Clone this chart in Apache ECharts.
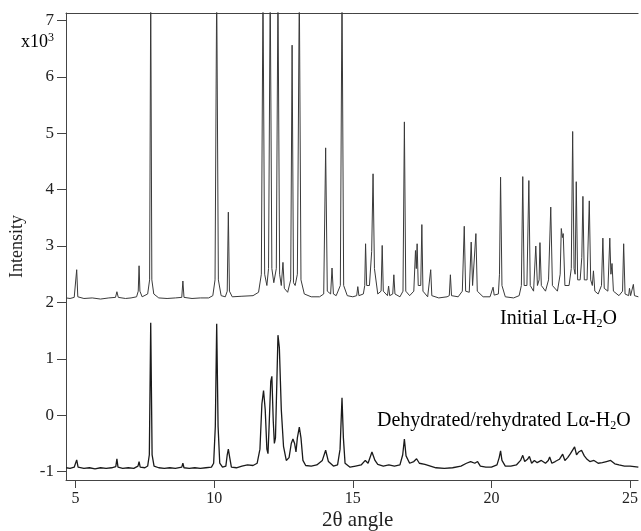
<!DOCTYPE html>
<html><head><meta charset="utf-8">
<script src="https://cdn.jsdelivr.net/npm/echarts@6/dist/echarts.min.js"></script>
<style>html,body{margin:0;padding:0;background:#fff}#c{width:641px;height:531px}</style>
</head><body><div id="c"></div>
<script>
// x ticks and y ticks
const xTicks = [5, 10, 15, 20, 25];
const yTicks = [-1, 0, 1, 2, 3, 4, 5, 6, 7];
// Initial Lα-H2O trace: [2θ, intensity x10^3]
const initialTrace = [
[4.66,2.08],[4.8,2.07],[4.95,2.09],[5.0,2.1],[5.04,2.58],[5.08,2.1],[5.3,2.07],[5.6,2.08],[5.9,2.06],[6.2,2.08],[6.44,2.09],[6.49,2.19],[6.54,2.09],[6.8,2.07],[7.0,2.08],[7.2,2.1],[7.26,2.2],[7.29,2.65],[7.32,2.2],[7.4,2.1],[7.6,2.15],[7.67,2.4],[7.71,7.6],[7.75,2.4],[7.82,2.15],[8.0,2.08],[8.3,2.07],[8.6,2.08],[8.83,2.09],[8.87,2.38],[8.91,2.09],[9.2,2.07],[9.5,2.08],[9.8,2.08],[9.95,2.12],[10.03,2.4],[10.09,7.6],[10.15,2.4],[10.25,2.12],[10.4,2.1],[10.47,2.2],[10.51,3.6],[10.55,2.2],[10.65,2.1],[11.0,2.11],[11.4,2.12],[11.6,2.18],[11.7,2.5],[11.76,7.6],[11.82,2.5],[11.9,2.3],[11.96,2.6],[12.02,7.6],[12.08,2.6],[12.15,2.35],[12.24,2.6],[12.30,7.6],[12.36,2.5],[12.42,2.3],[12.48,2.71],[12.53,2.25],[12.65,2.18],[12.76,2.4],[12.81,6.56],[12.86,2.35],[12.92,2.3],[13.0,2.5],[13.07,7.6],[13.13,2.4],[13.25,2.15],[13.5,2.1],[13.8,2.1],[13.95,2.15],[14.02,4.74],[14.08,2.2],[14.2,2.15],[14.25,2.61],[14.3,2.15],[14.4,2.12],[14.55,2.3],[14.61,7.6],[14.67,2.3],[14.8,2.12],[15.0,2.1],[15.14,2.12],[15.18,2.28],[15.22,2.12],[15.38,2.15],[15.43,2.3],[15.46,3.04],[15.5,2.3],[15.6,2.3],[15.68,2.9],[15.73,4.28],[15.78,2.6],[15.9,2.15],[16.02,2.2],[16.06,3.01],[16.1,2.2],[16.25,2.12],[16.29,2.29],[16.33,2.12],[16.44,2.15],[16.48,2.49],[16.52,2.15],[16.7,2.1],[16.81,2.2],[16.86,5.2],[16.91,2.2],[17.05,2.12],[17.2,2.2],[17.26,2.92],[17.29,2.6],[17.32,3.04],[17.36,2.3],[17.45,2.3],[17.49,3.38],[17.53,2.2],[17.7,2.1],[17.77,2.12],[17.81,2.58],[17.85,2.12],[18.1,2.08],[18.4,2.1],[18.48,2.12],[18.52,2.49],[18.56,2.12],[18.8,2.1],[18.95,2.2],[19.02,3.35],[19.07,2.2],[19.2,2.18],[19.27,3.07],[19.32,2.3],[19.39,2.3],[19.44,3.22],[19.49,2.2],[19.7,2.1],[19.95,2.1],[20.02,2.13],[20.06,2.27],[20.1,2.13],[20.25,2.15],[20.29,2.5],[20.33,4.22],[20.38,2.3],[20.5,2.1],[20.8,2.08],[21.0,2.12],[21.08,2.3],[21.13,4.23],[21.18,2.3],[21.28,2.3],[21.35,4.16],[21.4,2.3],[21.52,2.2],[21.6,3.0],[21.66,2.3],[21.72,2.4],[21.75,3.06],[21.8,2.3],[21.95,2.2],[22.06,2.4],[22.14,3.69],[22.2,2.3],[22.38,2.2],[22.48,2.5],[22.52,3.31],[22.56,3.15],[22.59,3.22],[22.65,2.3],[22.8,2.3],[22.88,2.6],[22.93,5.03],[22.98,2.6],[23.02,2.5],[23.06,4.14],[23.11,2.4],[23.2,2.4],[23.26,2.8],[23.30,3.88],[23.35,2.4],[23.45,2.4],[23.53,3.8],[23.58,2.4],[23.64,2.3],[23.68,2.56],[23.73,2.2],[23.85,2.15],[23.97,2.3],[24.02,3.14],[24.07,2.25],[24.2,2.2],[24.27,3.14],[24.31,2.5],[24.35,2.69],[24.4,2.2],[24.6,2.12],[24.73,2.2],[24.77,3.04],[24.82,2.15],[24.95,2.12],[24.98,2.25],[25.02,2.12],[25.08,2.13],[25.12,2.32],[25.16,2.12],[25.3,2.1]
];
// Dehydrated/rehydrated Lα-H2O trace
const dehydratedTrace = [
[4.66,-0.93],[4.8,-0.94],[4.95,-0.92],[5.0,-0.9],[5.04,-0.79],[5.09,-0.92],[5.3,-0.94],[5.5,-0.93],[5.7,-0.95],[5.9,-0.93],[6.1,-0.94],[6.3,-0.93],[6.45,-0.91],[6.49,-0.77],[6.53,-0.92],[6.7,-0.94],[6.9,-0.93],[7.1,-0.94],[7.25,-0.9],[7.29,-0.82],[7.33,-0.92],[7.5,-0.93],[7.6,-0.9],[7.66,-0.7],[7.71,1.64],[7.76,-0.7],[7.83,-0.9],[8.0,-0.93],[8.2,-0.94],[8.4,-0.93],[8.6,-0.94],[8.83,-0.92],[8.87,-0.85],[8.91,-0.93],[9.1,-0.94],[9.3,-0.93],[9.5,-0.94],[9.7,-0.93],[9.9,-0.92],[9.98,-0.85],[10.04,-0.2],[10.09,1.62],[10.14,-0.2],[10.2,-0.85],[10.3,-0.92],[10.42,-0.9],[10.47,-0.7],[10.51,-0.6],[10.56,-0.75],[10.62,-0.92],[10.8,-0.93],[11.0,-0.9],[11.2,-0.88],[11.4,-0.89],[11.55,-0.85],[11.65,-0.6],[11.72,0.2],[11.78,0.44],[11.84,0.1],[11.9,-0.6],[11.94,-0.68],[11.98,-0.2],[12.04,0.6],[12.08,0.69],[12.13,-0.1],[12.17,-0.5],[12.21,-0.4],[12.26,0.6],[12.30,1.42],[12.35,1.2],[12.42,0.1],[12.5,-0.55],[12.6,-0.8],[12.7,-0.75],[12.78,-0.5],[12.84,-0.42],[12.9,-0.5],[12.95,-0.65],[13.0,-0.4],[13.07,-0.21],[13.13,-0.4],[13.2,-0.8],[13.3,-0.89],[13.5,-0.9],[13.7,-0.88],[13.9,-0.8],[14.02,-0.62],[14.12,-0.82],[14.3,-0.9],[14.45,-0.88],[14.54,-0.6],[14.61,0.31],[14.66,-0.4],[14.72,-0.85],[14.9,-0.92],[15.1,-0.9],[15.3,-0.88],[15.45,-0.8],[15.55,-0.85],[15.69,-0.65],[15.8,-0.8],[15.9,-0.87],[16.1,-0.9],[16.3,-0.88],[16.5,-0.9],[16.7,-0.88],[16.8,-0.7],[16.86,-0.42],[16.92,-0.72],[17.05,-0.85],[17.2,-0.82],[17.3,-0.77],[17.4,-0.85],[17.6,-0.87],[17.8,-0.9],[18.0,-0.93],[18.3,-0.94],[18.6,-0.93],[18.9,-0.9],[19.1,-0.85],[19.25,-0.82],[19.4,-0.85],[19.5,-0.82],[19.6,-0.9],[19.8,-0.92],[20.0,-0.92],[20.2,-0.88],[20.28,-0.75],[20.33,-0.63],[20.38,-0.8],[20.5,-0.9],[20.7,-0.9],[20.9,-0.88],[21.05,-0.8],[21.13,-0.71],[21.2,-0.82],[21.3,-0.78],[21.37,-0.73],[21.45,-0.85],[21.55,-0.8],[21.65,-0.84],[21.8,-0.8],[21.95,-0.85],[22.05,-0.8],[22.1,-0.74],[22.18,-0.85],[22.3,-0.82],[22.45,-0.78],[22.57,-0.69],[22.65,-0.8],[22.75,-0.75],[22.85,-0.68],[22.95,-0.6],[23.0,-0.56],[23.07,-0.7],[23.15,-0.65],[23.25,-0.62],[23.35,-0.72],[23.45,-0.78],[23.55,-0.82],[23.7,-0.8],[23.85,-0.85],[24.0,-0.84],[24.15,-0.82],[24.3,-0.8],[24.45,-0.86],[24.6,-0.88],[24.8,-0.9],[25.0,-0.9],[25.3,-0.92]
];
const labelInitial = ['Initial Lα-H', '2', 'O'];
const labelDehydrated = ['Dehydrated/rehydrated Lα-H', '2', 'O'];
const xTitle = '2θ angle';
const yTitle = 'Intensity';

const FONT = '"Liberation Serif", "DejaVu Serif", serif';
const AX = '#444';
const TXT = '#222';
const chart = echarts.init(document.getElementById('c'), null, {renderer: 'canvas'});
const rich = {
  a: {fontFamily: FONT, fontSize: 20, color: TXT},
  s: {fontFamily: FONT, fontSize: 12, color: TXT, padding: [9, 0, 0, 0]},
  b: {fontFamily: FONT, fontSize: 18, color: TXT},
  p: {fontFamily: FONT, fontSize: 12, color: TXT, padding: [0, 0, 8, 0]}
};
chart.setOption({
  animation: false,
  grid: {left: 63, right: -1, top: 13, bottom: 51, containLabel: false},
  xAxis: [{
    type: 'value', min: 4.654, max: 25.29,
    axisLine: {show: true, onZero: false, lineStyle: {color: AX, width: 1}},
    axisTick: {show: true, length: 8, lineStyle: {color: AX}, customValues: xTicks},
    axisLabel: {fontFamily: FONT, fontSize: 16, color: TXT, margin: 11,
      customValues: xTicks, formatter: v => String(v)},
    splitLine: {show: false}
  }, {
    type: 'value', position: 'top', min: 4.654, max: 25.29,
    axisLine: {show: true, onZero: false, lineStyle: {color: AX, width: 1}},
    axisTick: {show: false}, axisLabel: {show: false}, splitLine: {show: false}
  }],
  yAxis: {
    type: 'value', min: -1.147, max: 7.13,
    name: yTitle, nameLocation: 'middle', nameGap: 40,
    nameTextStyle: {fontFamily: FONT, fontSize: 18, color: TXT},
    axisLine: {show: true, onZero: false, lineStyle: {color: AX, width: 1}},
    axisTick: {show: true, length: 9, lineStyle: {color: AX}, customValues: yTicks},
    axisLabel: {fontFamily: FONT, fontSize: 17, color: TXT, margin: 12,
      customValues: yTicks, formatter: v => String(v)},
    splitLine: {show: false}
  },
  graphic: [
    {type: 'text', left: 21, top: 32, style: {text: '{b|x10}{p|3}', rich: rich}},
    {type: 'text', left: 322, top: 510, style: {text: xTitle, font: '21px ' + FONT, fill: TXT}},
    {type: 'text', left: 500, top: 309, style: {text: '{a|' + labelInitial[0] + '}{s|' + labelInitial[1] + '}{a|' + labelInitial[2] + '}', rich: rich}},
    {type: 'text', left: 377, top: 411, style: {text: '{a|' + labelDehydrated[0] + '}{s|' + labelDehydrated[1] + '}{a|' + labelDehydrated[2] + '}', rich: rich}}
  ],
  series: [{
    type: 'line', data: initialTrace, showSymbol: false, symbol: 'none',
    lineStyle: {color: '#3a3a3a', width: 1}, clip: true
  }, {
    type: 'line', data: dehydratedTrace, showSymbol: false, symbol: 'none',
    lineStyle: {color: '#1a1a1a', width: 1.3}, clip: true
  }]
});
</script></body></html>
